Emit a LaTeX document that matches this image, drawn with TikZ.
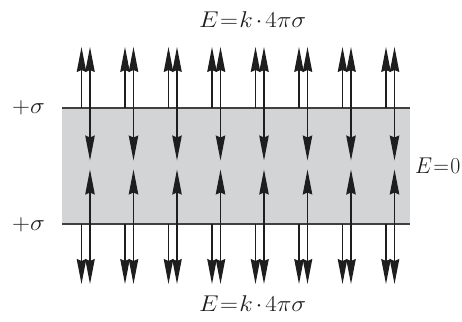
\documentclass[tikz,border=0pt]{standalone}
\usepackage{graphicx}
\usetikzlibrary{arrows.meta}
\definecolor{plategray}{RGB}{211,212,214}
\definecolor{ink}{RGB}{30,30,30}
\newcommand{\bigmath}[2][1.2]{\scalebox{#1}[1.1]{\huge$#2$}}
\tikzset{
  fieldline/.style={draw=ink, line width=1.3pt, -{Stealth[length=25pt,width=9.5pt,inset=2pt]}},
  fieldboth/.style={draw=ink, line width=1.3pt, {Stealth[length=25pt,width=9.5pt,inset=2pt]}-{Stealth[length=25pt,width=9.5pt,inset=2pt]}},
  plateline/.style={draw=ink!85, line width=1.3pt},
  lab/.style={inner sep=0pt, text=ink}
}
\begin{document}
\begin{tikzpicture}[x=1pt,y=-1pt]
\useasboundingbox (0,0) rectangle (462,321);
\fill[plategray] (62,108) rectangle (410,224);
\coordinate (pl1) at (62,108); \coordinate (pr1) at (410,108);
\coordinate (pl2) at (62,224); \coordinate (pr2) at (410,224);
\draw[plateline] (pl1) -- (pr1);
\draw[plateline] (pl2) -- (pr2);
\foreach \i in {0,...,7}{
  \pgfmathsetmacro{\xr}{90+43.5*\i}
  \pgfmathsetmacro{\xl}{\xr-8.5}
  \coordinate (a\i) at (\xl,108);
  \coordinate (at\i) at (\xl,47);
  \coordinate (b\i) at (\xr,47);
  \coordinate (bt\i) at (\xr,160.5);
  \coordinate (c\i) at (\xr,169.5);
  \coordinate (ct\i) at (\xr,284);
  \coordinate (d\i) at (\xl,224);
  \coordinate (dt\i) at (\xl,284);
  \draw[fieldline] (a\i) -- (at\i);
  \draw[fieldboth] (b\i) -- (bt\i);
  \draw[fieldboth] (c\i) -- (ct\i);
  \draw[fieldline] (d\i) -- (dt\i);
}
\node[lab, anchor=base west] (et) at (199,28) {\bigmath{E\mkern1mu{=}\mkern1mu k\mkern2mu{\cdot}\mkern2mu4\pi\sigma}};
\node[lab, anchor=base west] (eb) at (199,311) {\bigmath{E\mkern1mu{=}\mkern1mu k\mkern2mu{\cdot}\mkern2mu4\pi\sigma}};
\node[lab, anchor=base east] (s1) at (45,113) {\bigmath{+\sigma}};
\node[lab, anchor=base east] (s2) at (45,230) {\bigmath{+\sigma}};
\node[lab, anchor=base east] (e0) at (460.5,173) {\bigmath[1.05]{E\mkern1mu{=}\mkern1mu0}};
\end{tikzpicture}
\end{document}
